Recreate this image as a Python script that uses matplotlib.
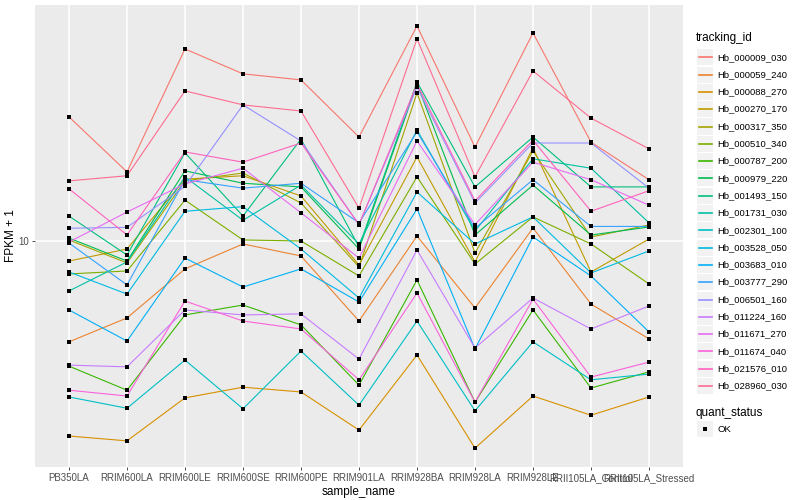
import numpy as np
import matplotlib
matplotlib.use("Agg")
import matplotlib.pyplot as plt
from matplotlib.patches import Rectangle
from matplotlib.lines import Line2D

plt.rcParams['font.family'] = ['Liberation Sans', 'DejaVu Sans']

samples = ["PB350LA", "RRIM600LA", "RRIM600LE", "RRIM600SE", "RRIM600PE",
           "RRIM901LA", "RRIM928BA", "RRIM928LA", "RRIM928LE",
           "RRII105LA_Control", "RRII105LA_Stressed"]

tracking_ids = ["Hb_000009_030", "Hb_000059_240", "Hb_000088_270", "Hb_000270_170",
                "Hb_000317_350", "Hb_000510_340", "Hb_000787_200", "Hb_000979_220",
                "Hb_001493_150", "Hb_001731_030", "Hb_002301_100", "Hb_003528_050",
                "Hb_003683_010", "Hb_003777_290", "Hb_006501_160", "Hb_011224_160",
                "Hb_011671_270", "Hb_011674_040", "Hb_021576_010", "Hb_028960_030"]

# FPKM + 1, one list per gene, in the order of samples
hb_000009_030 = [32.9, 19.4, 63.1, 49.7, 46.9, 27.1, 78.7, 24.6, 73.6, 25.8, 18.0]
hb_000059_240 = [3.80, 4.78, 7.65, 9.72, 8.66, 4.64, 10.49, 5.26, 11.33, 5.46, 3.91]
hb_000088_270 = [1.54, 1.47, 2.22, 2.46, 2.35, 1.63, 3.35, 1.37, 2.26, 1.88, 2.24]
hb_000270_170 = [8.25, 9.26, 18.1, 18.7, 15.4, 7.94, 22.4, 8.18, 24.4, 7.43, 10.19]
hb_000317_350 = [10.1, 8.10, 17.8, 19.2, 14.4, 7.79, 41.4, 8.91, 23.7, 10.39, 11.66]
hb_000510_340 = [7.29, 7.50, 14.8, 10.1, 10.0, 7.15, 18.5, 8.02, 12.6, 9.72, 6.62]
hb_000787_200 = [3.01, 2.39, 4.92, 5.41, 4.47, 2.51, 6.88, 2.13, 5.16, 2.44, 2.85]
hb_000979_220 = [10.29, 8.25, 19.6, 17.4, 16.8, 9.26, 45.1, 10.59, 17.1, 10.59, 11.44]
hb_001493_150 = [12.7, 8.74, 23.3, 12.7, 26.6, 9.44, 46.0, 16.8, 27.1, 16.8, 16.8]
hb_001731_030 = [6.19, 8.18, 18.5, 12.2, 17.1, 9.72, 29.0, 11.0, 22.0, 20.1, 11.9]
hb_002301_100 = [2.24, 2.01, 3.19, 2.00, 3.48, 2.07, 4.64, 1.96, 3.80, 2.64, 2.79]
hb_003528_050 = [7.43, 6.01, 13.3, 13.9, 9.26, 5.79, 16.0, 9.72, 12.6, 7.36, 9.09]
hb_003683_010 = [5.16, 3.83, 8.49, 6.43, 7.65, 5.57, 13.6, 3.55, 10.39, 7.15, 4.18]
hb_003777_290 = [9.81, 6.56, 18.0, 16.6, 17.4, 11.9, 28.5, 11.3, 18.0, 11.5, 11.5]
hb_006501_160 = [11.3, 11.4, 16.9, 36.9, 26.1, 11.7, 43.8, 14.4, 25.6, 25.6, 16.6]
hb_011224_160 = [3.04, 2.99, 5.16, 4.92, 4.97, 3.22, 9.17, 3.58, 5.79, 4.30, 5.36]
hb_011671_270 = [9.90, 13.2, 17.3, 20.1, 13.1, 8.49, 26.1, 11.7, 21.3, 18.0, 14.1]
hb_011674_040 = [2.39, 2.26, 5.62, 4.64, 4.30, 2.64, 6.07, 2.13, 5.73, 2.71, 3.13]
hb_021576_010 = [16.5, 10.6, 23.5, 21.3, 25.6, 11.7, 45.1, 14.7, 26.3, 13.3, 16.2]
hb_028960_030 = [17.8, 18.7, 42.2, 36.9, 34.8, 13.7, 69.5, 18.5, 51.1, 32.5, 24.2]

series = [hb_000009_030, hb_000059_240, hb_000088_270, hb_000270_170, hb_000317_350,
          hb_000510_340, hb_000787_200, hb_000979_220, hb_001493_150, hb_001731_030,
          hb_002301_100, hb_003528_050, hb_003683_010, hb_003777_290, hb_006501_160,
          hb_011224_160, hb_011671_270, hb_011674_040, hb_021576_010, hb_028960_030]

colors = ["#F8766D", "#EA8331", "#D89000", "#C09B00", "#A3A500", "#7CAE00", "#39B600",
          "#00BB4E", "#00BF7D", "#00C1A3", "#00BFC4", "#00BAE0", "#00B0F6", "#35A2FF",
          "#9590FF", "#C77CFF", "#E76BF3", "#FA62DB", "#FF62BC", "#FF6C91"]

W, H = 800, 500
fig = plt.figure(figsize=(8, 5), dpi=100)
ax = fig.add_axes([35 / W, 1 - 467 / H, (683 - 35) / W, (467 - 5) / H])
ax.set_facecolor("#EBEBEB")

x = np.arange(len(samples))
for vals, col in zip(series, colors):
    ax.plot(x, vals, color=col, lw=0.8, zorder=2)
for vals in series:
    ax.plot(x, vals, ls="none", marker="s", ms=3.0, mew=0, color="black", zorder=3)

ax.set_yscale("log")
ax.set_ylim(1.144, 96.2)
ax.set_xlim(-0.586, len(samples) - 1 + 0.586)
ax.set_yticks([10])
ax.set_yticklabels(["10"])
ax.yaxis.set_minor_locator(matplotlib.ticker.NullLocator())
ax.set_xticks(x)
ax.set_xticklabels(samples)
ax.grid(True, color="white", lw=1.1, zorder=0)
ax.set_axisbelow(True)
for s in ax.spines.values():
    s.set_visible(False)
ax.tick_params(axis="both", colors="#333333", labelcolor="#4D4D4D", labelsize=7,
               length=2.5, width=0.6, pad=2)
ax.set_xlabel("sample_name", fontsize=8.5, labelpad=2)
ax.set_ylabel("FPKM + 1", fontsize=8.5, labelpad=1)

# legend drawn by hand, ggplot style
def fx(px):
    return px / W

def fy(py):
    return 1 - py / H

fig.text(fx(696), fy(38), "tracking_id", fontsize=8.5, va="center", ha="left")
for i, (tid, col) in enumerate(zip(tracking_ids, colors)):
    yc = 57.3 + i * 17.3
    fig.add_artist(Rectangle((fx(697), fy(yc + 8)), 16 / W, 16 / H,
                             transform=fig.transFigure, facecolor="#F2F2F2",
                             edgecolor="none", zorder=1))
    fig.add_artist(Line2D([fx(698.5), fx(711.5)], [fy(yc), fy(yc)],
                          transform=fig.transFigure, color=col, lw=1.2, zorder=3))
    fig.text(fx(717), fy(yc), tid, fontsize=6.8, va="center", ha="left")

fig.text(fx(696), fy(413), "quant_status", fontsize=8.5, va="center", ha="left")
fig.add_artist(Rectangle((fx(697), fy(429 + 8)), 16 / W, 16 / H,
                         transform=fig.transFigure, facecolor="#F2F2F2",
                         edgecolor="none", zorder=1))
fig.add_artist(Line2D([fx(705)], [fy(429)], transform=fig.transFigure,
                      marker="s", ms=3.0, mew=0, color="black", ls="none", zorder=3))
fig.text(fx(717), fy(429), "OK", fontsize=6.8, va="center", ha="left")

fig.savefig("out.png", dpi=100)
